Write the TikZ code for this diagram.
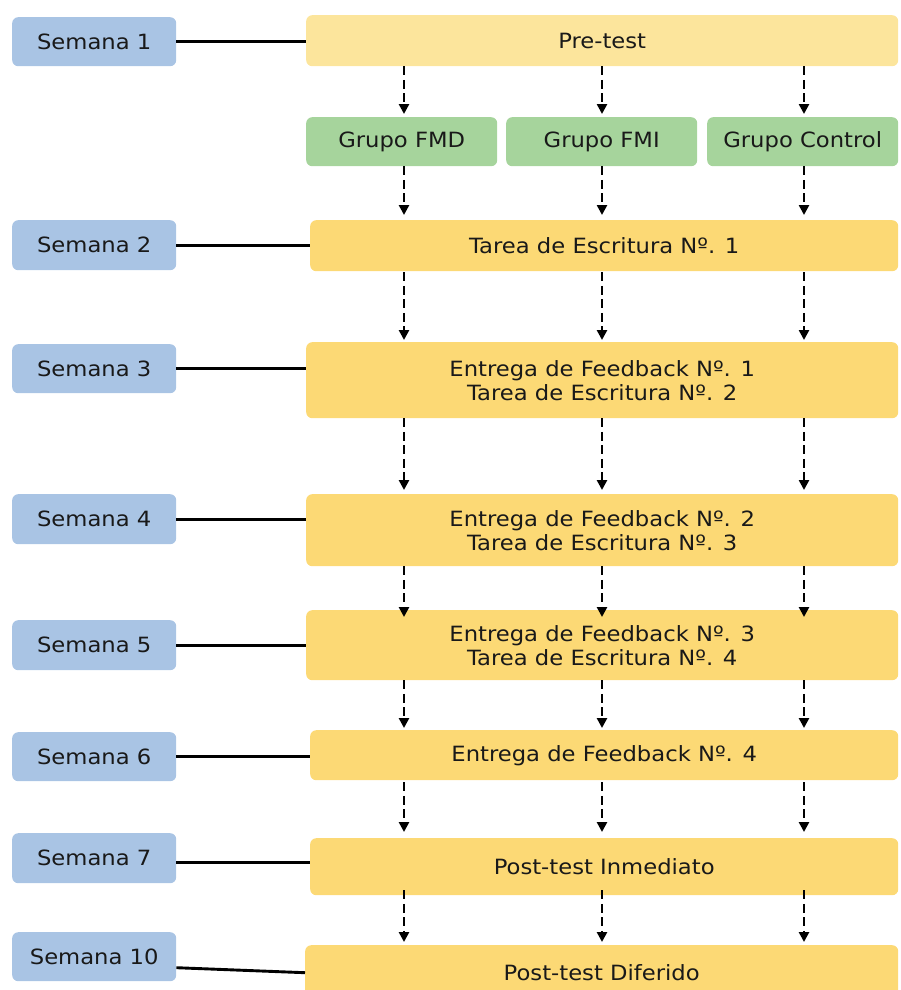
\documentclass[tikz,border=0pt]{standalone}
\usepackage{fontspec}
\setmainfont{DejaVu Sans}[FakeStretch=1.08]
\usetikzlibrary{arrows.meta,calc}
\definecolor{semblue}{RGB}{169,196,228}
\definecolor{grpgreen}{RGB}{166,212,156}
\definecolor{preyellow}{RGB}{252,229,156}
\definecolor{boxyellow}{RGB}{252,217,117}
\definecolor{txtgray}{RGB}{25,25,25}
\begin{document}
\begin{tikzpicture}[x=1pt,y=-1pt,
  every node/.style={font=\fontsize{21}{24}\selectfont, text=txtgray, inner sep=0pt, anchor=north west, rounded corners=6pt, align=center},
  sem/.style={fill=semblue, minimum width=164pt},
  grp/.style={fill=grpgreen, minimum width=191pt, minimum height=49pt},
  prebox/.style={fill=preyellow},
  ybox/.style={fill=boxyellow},
  darr/.style={line width=2.9pt, dash pattern=on 9pt off 4.5pt, -{Triangle[width=10pt,length=10pt]}},
  sline/.style={line width=2.9pt}]
\useasboundingbox (0,0) rectangle (900,990);
% Semana boxes
\node[sem, minimum height=49pt] (s1) at (12,17) {Semana 1};
\node[sem, minimum height=50pt] (s2) at (12,220) {Semana 2};
\node[sem, minimum height=49pt] (s3) at (12,344) {Semana 3};
\node[sem, minimum height=50pt] (s4) at (12,494) {Semana 4};
\node[sem, minimum height=50pt] (s5) at (12,620) {Semana 5};
\node[sem, minimum height=49pt] (s6) at (12,732) {Semana 6};
\node[sem, minimum height=50pt] (s7) at (12,833) {Semana 7};
\node[sem, minimum height=49pt] (s10) at (12,932) {Semana 10};
% main boxes
\node[prebox, minimum width=592pt, minimum height=51pt] (pre) at (306,15) {Pre-test};
\node[grp] (fmd) at (306,117) {Grupo FMD};
\node[grp] (fmi) at (506,117) {Grupo FMI};
\node[grp] (ctl) at (707,117) {Grupo Control};
\node[ybox, minimum width=588pt, minimum height=51pt] (t1) at (310,220) {Tarea de Escritura Nº. 1};
\node[ybox, minimum width=592pt, minimum height=76pt] (e1) at (306,342) {Entrega de Feedback Nº. 1\\ Tarea de Escritura Nº. 2};
\node[ybox, minimum width=592pt, minimum height=72pt] (e2) at (306,494) {Entrega de Feedback Nº. 2\\Tarea de Escritura Nº. 3};
\node[ybox, minimum width=592pt, minimum height=70pt] (e3) at (306,610) {Entrega de Feedback Nº. 3\\Tarea de Escritura Nº. 4};
\node[ybox, minimum width=588pt, minimum height=50pt] (e4) at (310,730) {Entrega de Feedback Nº. 4};
\node[ybox, minimum width=588pt, minimum height=57pt] (pi) at (310,838) {Post-test Inmediato};
\node[ybox, minimum width=593pt, minimum height=55pt] (pd) at (305,945) {Post-test Diferido};
% columns
\coordinate (c1) at (404,0);
\coordinate (c2) at (602,0);
\coordinate (c3) at (804,0);
% Semana lines
\draw[sline] (s1.east) -- (s1.east -| pre.west);
\draw[sline] (s2.east) -- (s2.east -| t1.west);
\draw[sline] (s3.east) -- (s3.east -| e1.west);
\draw[sline] (s4.east) -- (s4.east -| e2.west);
\draw[sline] (s5.east) -- (s5.east -| e3.west);
\draw[sline] (s6.east) -- (s6.east -| e4.west);
\coordinate (l7) at ($(s7.east)+(0,4)$);
\draw[sline] (l7) -- (l7 -| pi.west);
\coordinate (l10) at ($(s10.east)+(0,11)$);
\draw[sline] (l10) -- (pd.west);
% arrows
\draw[darr] (pre.south -| c1) -- ($(fmd.north -| c1)+(0,-3)$);
\draw[darr] (pre.south -| c2) -- ($(fmi.north -| c2)+(0,-3)$);
\draw[darr] (pre.south -| c3) -- ($(ctl.north -| c3)+(0,-3)$);
\draw[darr] (fmd.south -| c1) -- ($(t1.north -| c1)+(0,-5)$);
\draw[darr] (fmi.south -| c2) -- ($(t1.north -| c2)+(0,-5)$);
\draw[darr] (ctl.south -| c3) -- ($(t1.north -| c3)+(0,-5)$);
\foreach \c in {c1,c2,c3}{
  \draw[darr] ($(t1.south -| \c)+(0,1)$) -- ($(e1.north -| \c)+(0,-2)$);
  \draw[darr] (e1.south -| \c) -- ($(e2.north -| \c)+(0,-4)$);
  \draw[darr] (e2.south -| \c) -- ($(e3.north -| \c)+(0,7)$);
  \draw[darr] (e3.south -| \c) -- ($(e4.north -| \c)+(0,-2)$);
  \draw[darr] ($(e4.south -| \c)+(0,2)$) -- ($(pi.north -| \c)+(0,-6)$);
  \draw[darr] ($(pi.south -| \c)+(0,-5)$) -- ($(pd.north -| \c)+(0,-3)$);
}
\end{tikzpicture}
\end{document}
